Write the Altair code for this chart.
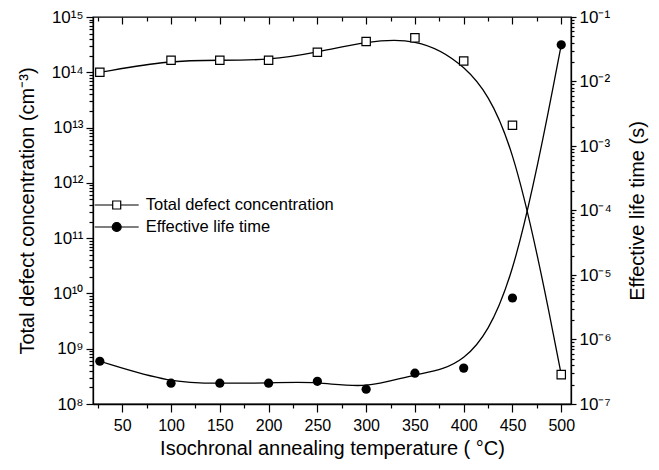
import json

import altair as alt
import pandas as pd

# Annealing temperatures (°C) and the two measured quantities
temps = [27, 100, 150, 200, 250, 300, 350, 400, 450, 500]
defect_conc = [1.0e14, 1.65e14, 1.65e14, 1.65e14, 2.3e14, 3.6e14, 4.2e14, 1.6e14, 1.1e13, 3.4e8]
life_time = [4.6e-7, 2.1e-7, 2.1e-7, 2.1e-7, 2.25e-7, 1.7e-7, 3.0e-7, 3.6e-7, 4.4e-6, 3.7e-2]
series_names = ["Total defect concentration", "Effective life time"]

# Tick positions
x_major = list(range(50, 501, 50))
x_minor = list(range(25, 501, 50))
left_ticks = [m * 10.0 ** e for e in range(8, 15) for m in range(1, 10)] + [1e15]
right_ticks = [m * 10.0 ** e for e in range(-7, -1) for m in range(1, 10)] + [1e-1]

FONT = "Liberation Sans"
SUP = str.maketrans("0123456789-", "⁰¹²³⁴⁵⁶⁷⁸⁹⁻")
LOG10 = "log(datum.value) / LN10"
IS_DECADE = f"abs({LOG10} - round({LOG10})) < 0.001"


def decade_label_expr(lo, hi):
    labels = ["10" + str(e).translate(SUP) for e in range(lo, hi + 1)]
    return f"{IS_DECADE} ? {json.dumps(labels, ensure_ascii=False)}[round({LOG10}) - ({lo})] : ''"


def log_tick_size(major, minor):
    return {"condition": {"test": IS_DECADE, "value": major}, "value": minor}


df_def = pd.DataFrame({"temp": temps, "value": defect_conc})
df_life = pd.DataFrame({"temp": temps, "value": life_time})
df_series = pd.DataFrame({"series": series_names})

x_scale = alt.Scale(domain=[20, 510], nice=False, zero=False)

# ---- left axis: total defect concentration ----
x_bottom = alt.X(
    "temp:Q",
    scale=x_scale,
    axis=alt.Axis(
        orient="bottom",
        grid=False,
        values=sorted(x_major + x_minor),
        format="d",
        labelExpr="datum.value % 50 == 0 ? datum.label : ''",
        tickSize={"condition": {"test": "datum.value % 50 == 0", "value": 8}, "value": 4},
        labelOverlap=False,
        labelFlush=False,
        labelPadding=5,
        labelFontSize=16,
        title="Isochronal annealing temperature ( °C)",
        titlePadding=5,
    ),
)
y_left = alt.Y(
    "value:Q",
    scale=alt.Scale(type="log", domain=[1e8, 1e15], nice=False),
    axis=alt.Axis(
        orient="left",
        grid=False,
        values=left_ticks,
        labelExpr=decade_label_expr(8, 15),
        tickSize=log_tick_size(7, 4),
        labelOverlap=False,
        labelFlush=False,
        labelPadding=3,
        labelFontSize=17,
        title="Total defect concentration (cm⁻³)",
        titlePadding=14,
    ),
)

defect_base = alt.Chart(df_def).encode(x=x_bottom, y=y_left)
defect_line = defect_base.mark_line(interpolate="basis", color="black", strokeWidth=1.3)
defect_pts = defect_base.mark_point(
    shape="square", size=70, filled=True, fill="white", stroke="black", strokeWidth=1.2, opacity=1
)

# Legend carrier: line-marker-line symbols for both series
legend_paths = [
    "M-2.2,0L-0.4,0M0.4,0L2.2,0M-0.4,-0.4L0.4,-0.4L0.4,0.4L-0.4,0.4Z",
    "M-2.2,0L-0.45,0M0.45,0L2.2,0M0.45,0A0.45,0.45,0,1,1,-0.45,0A0.45,0.45,0,1,1,0.45,0Z",
]
legend_def = alt.Legend(
    orient="none",
    legendX=12.7,
    legendY=177,
    title=None,
    padding=0,
    rowPadding=2,
    symbolSize=400,
    symbolStrokeWidth=1.2,
    symbolOpacity=1,
    labelOffset=18,
    labelLimit=400,
    labelFont=FONT,
    labelFontSize=16.5,
    labelColor="black",
)
legend_layer = (
    alt.Chart(df_series)
    .transform_filter("false")
    .mark_point(filled=True, strokeWidth=1.2, opacity=1)
    .encode(
        shape=alt.Shape(
            "series:N", scale=alt.Scale(domain=series_names, range=legend_paths), legend=legend_def
        ),
        fill=alt.Fill(
            "series:N", scale=alt.Scale(domain=series_names, range=["white", "black"]), legend=legend_def
        ),
        stroke=alt.Stroke(
            "series:N", scale=alt.Scale(domain=series_names, range=["black", "black"]), legend=legend_def
        ),
    )
)

defect_layer = alt.layer(defect_line, defect_pts, legend_layer)

# ---- right axis: effective life time ----
x_top = alt.X(
    "temp:Q",
    scale=x_scale,
    axis=alt.Axis(
        orient="top", grid=False, values=x_major, labels=False, domain=False,
        tickSize=7, offset=-7, title=None,
    ),
)
y_right = alt.Y(
    "value:Q",
    scale=alt.Scale(type="log", domain=[1e-7, 1e-1], nice=False),
    axis=alt.Axis(
        orient="right",
        grid=False,
        values=right_ticks,
        labelExpr=decade_label_expr(-7, -1),
        tickSize=log_tick_size(5, 3),
        labelOverlap=False,
        labelFlush=False,
        labelPadding=3,
        labelFontSize=17,
        title="Effective life time (s)",
        titleAngle=270,
        titleBaseline="top",
        titlePadding=16,
    ),
)
life_base = alt.Chart(df_life).encode(x=x_top, y=y_right)
life_line = life_base.mark_line(interpolate="basis", color="black", strokeWidth=1.3)
life_pts = life_base.mark_point(shape="circle", size=85, filled=True, color="black", opacity=1)
life_layer = alt.layer(life_line, life_pts)

# ---- minor ticks along the top edge ----
top_minor = (
    alt.Chart(df_life)
    .transform_filter("false")
    .mark_point(opacity=0)
    .encode(
        x=alt.X(
            "temp:Q",
            scale=x_scale,
            axis=alt.Axis(
                orient="top", grid=False, values=x_minor, labels=False, domain=False,
                tickSize=4, offset=-4, title=None,
            ),
        ),
        y=alt.Y("value:Q", scale=alt.Scale(type="log", domain=[1e-7, 1e-1]), axis=None),
    )
)

chart = (
    alt.layer(defect_layer, life_layer, top_minor)
    .resolve_scale(x="independent", y="independent")
    .properties(
        width=478,
        height=387,
        background="white",
        autosize=alt.AutoSizeParams(type="none"),
        padding={"left": 93, "top": 17, "right": 88, "bottom": 66},
    )
    .configure_view(stroke="black", strokeWidth=1.3)
    .configure_axis(
        grid=False,
        domainColor="black",
        domainWidth=1.3,
        tickColor="black",
        tickWidth=1.2,
        labelFont=FONT,
        labelColor="black",
        titleFont=FONT,
        titleFontSize=20,
        titleFontWeight="normal",
        titleColor="black",
    )
)

chart.save("out.html", embed_options={"renderer": "svg", "actions": False})
